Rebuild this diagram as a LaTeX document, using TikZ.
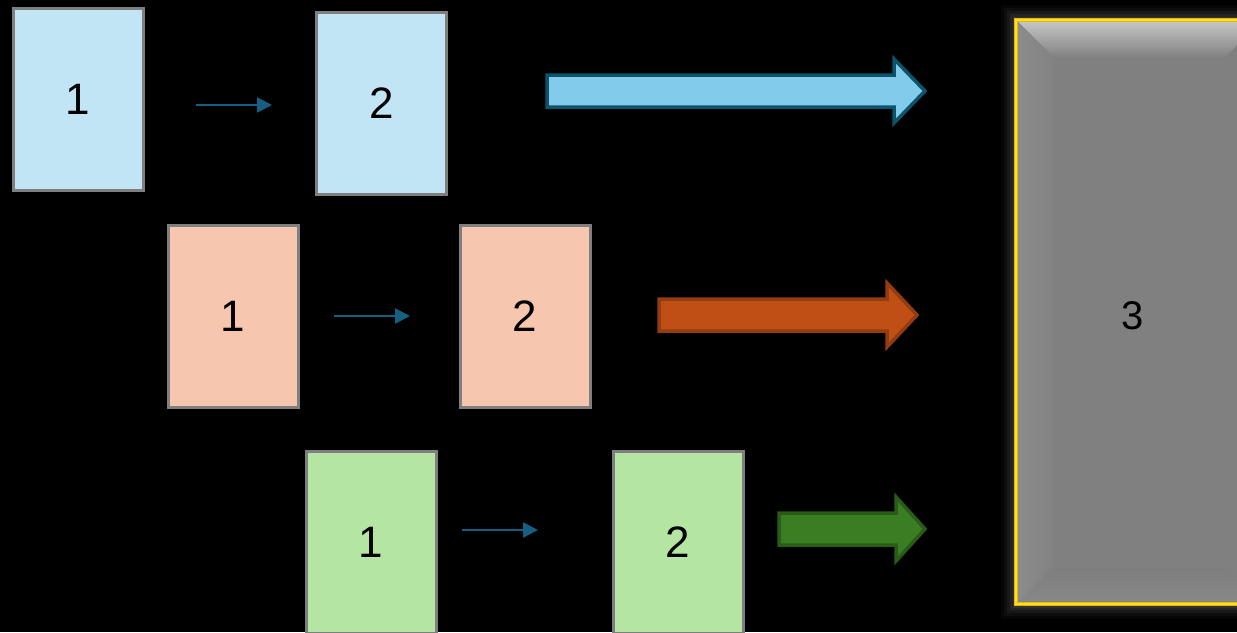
\documentclass[tikz,border=0pt]{standalone}
\usepackage{fontspec}
\setmainfont{Liberation Sans}
\usetikzlibrary{arrows.meta}
\definecolor{boxborder}{HTML}{7F7F7F}
\definecolor{bluefill}{HTML}{C2E5F6}
\definecolor{orangefill}{HTML}{F6C7AE}
\definecolor{greenfill}{HTML}{B4E5A2}
\definecolor{smallarrow}{HTML}{156082}
\definecolor{bigbluefill}{HTML}{83CBEB}
\definecolor{bigblueline}{HTML}{0C536B}
\definecolor{bigorangefill}{HTML}{C04F15}
\definecolor{bigorangeline}{HTML}{923C10}
\definecolor{biggreenfill}{HTML}{3B7D23}
\definecolor{biggreenline}{HTML}{2A5C18}
\definecolor{goldline}{HTML}{E8B800}
\definecolor{goldlight}{HTML}{FFE030}
\tikzset{
  card/.style={draw=boxborder, line width=3pt, minimum width=130pt, minimum height=182pt,
    inner sep=0pt, font=\fontsize{44}{50}\selectfont},
  smallarr/.style={draw=smallarrow, line width=2.4pt, -{Triangle[length=15pt,width=15pt]}},
  bigarr/.style={line width=3.5pt, line join=miter},
}
\begin{document}
\begin{tikzpicture}[x=1pt,y=-1pt]
\fill[black] (0,0) rectangle (1237,632);
\clip (0,0) rectangle (1237,632);
% row 1 (blue)
\node[card, fill=bluefill] (b1) at (78,99.5) {1};
\node[card, fill=bluefill] (b2) at (381.5,103.5) {2};
\coordinate (b1s) at (196,105);
\coordinate (b1e) at (272,105);
\draw[smallarr] (b1s) -- (b1e);
\draw[bigarr, draw=bigblueline, fill=bigbluefill]
  (547,75) -- (894,75) -- (894,59) -- (925,91) -- (894,123) -- (894,107) -- (547,107) -- cycle;
% row 2 (orange)
\node[card, fill=orangefill] (o1) at (233,316) {1};
\node[card, fill=orangefill] (o2) at (525,316) {2};
\coordinate (o1s) at (334,316);
\coordinate (o1e) at (410,316);
\draw[smallarr] (o1s) -- (o1e);
\draw[bigarr, draw=bigorangeline, fill=bigorangefill]
  (659,299) -- (887,299) -- (887,283) -- (917,315) -- (887,347) -- (887,331) -- (659,331) -- cycle;
% row 3 (green)
\node[card, fill=greenfill] (g1) at (371,542) {1};
\node[card, fill=greenfill] (g2) at (678,542) {2};
\coordinate (g1s) at (462,530);
\coordinate (g1e) at (538,530);
\draw[smallarr] (g1s) -- (g1e);
\draw[bigarr, draw=biggreenline, fill=biggreenfill]
  (779,513) -- (896,513) -- (896,497) -- (925,529) -- (896,561) -- (896,545) -- (779,545) -- cycle;
% box 3 with glow and bevel
\foreach \w/\o in {30/0.05,24/0.07,18/0.09,12/0.12,7/0.15}{
  \draw[line width=\w pt, color=gray, opacity=\o] (1016,20) rectangle (1262,604);
}
\fill[color={rgb,255:red,128;green,128;blue,128}] (1016,20) rectangle (1262,604);
\shade[top color={rgb,255:red,200;green,200;blue,200}, bottom color={rgb,255:red,130;green,130;blue,130}]
  (1016,20) -- (1262,20) -- (1225,57) -- (1053,57) -- cycle;
\shade[left color={rgb,255:red,140;green,140;blue,140}, right color={rgb,255:red,130;green,130;blue,130}]
  (1016,20) -- (1053,57) -- (1053,567) -- (1016,604) -- cycle;
\shade[bottom color={rgb,255:red,136;green,136;blue,136}, top color={rgb,255:red,126;green,126;blue,126}]
  (1016,604) -- (1053,567) -- (1225,567) -- (1262,604) -- cycle;
\draw[goldline, line width=4pt] (1016,20) rectangle (1262,604);
\draw[goldlight, line width=1.5pt] (1016,20) rectangle (1262,604);
\node[font=\fontsize{40}{46}\selectfont, inner sep=0pt] (c3) at (1133,316) {3};
\end{tikzpicture}
\end{document}
